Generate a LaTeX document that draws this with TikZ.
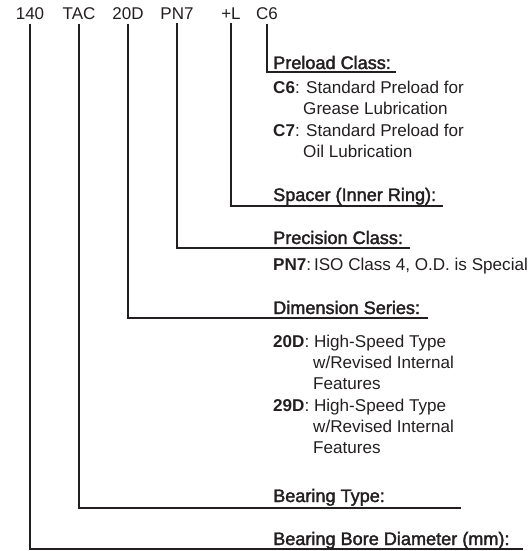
\documentclass[tikz,border=0pt]{standalone}
\usepackage{fontspec}
\setmainfont{Liberation Sans}
\newfontfamily\headfont{Liberation Sans}[FakeBold=2]
\definecolor{ink}{HTML}{231F20}
\begin{document}
\begin{tikzpicture}[x=1pt, y=-1pt,
  code/.style={anchor=base, inner sep=0pt, outer sep=3.5pt, text=ink, font=\fontsize{17}{20}\selectfont},
  head/.style={anchor=base west, inner sep=0pt, text=ink, font=\fontsize{18.1}{21}\headfont},
  body/.style={anchor=base west, inner sep=0pt, text=ink, font=\fontsize{17.1}{21}\selectfont},
  leader/.style={draw=ink, line width=1.5pt}]
\useasboundingbox (0,0) rectangle (532,551);
\node[code] (c140) at (30,20){140};
\node[code] (cTAC) at (79,20){TAC};
\node[code] (c20D) at (128,20){20D};
\node[code] (cPN7) at (177,20){PN7};
\node[code] (cL) at (231,20){+L};
\node[code] (cC6) at (267,20){C6};
\coordinate (eC6) at (396,72);
\coordinate (eL) at (443,206);
\coordinate (ePN7) at (410,248);
\coordinate (e20D) at (428,318);
\coordinate (eTAC) at (461,508);
\coordinate (e140) at (523,549);
\draw[leader](cC6.south) |- (eC6);
\draw[leader](cL.south) |- (eL);
\draw[leader](cPN7.south) |- (ePN7);
\draw[leader](c20D.south) |- (e20D);
\draw[leader](cTAC.south) |- (eTAC);
\draw[leader](c140.south) |- (e140);
\node[head] (hC6) at (273,69){Preload Class:};
\node[body] (bC6a) at (273,93){\textbf{C6}: Standard Preload for};
\node[body] (bC6b) at (303,114){Grease Lubrication};
\node[body] (bC7a) at (273,136){\textbf{C7}: Standard Preload for};
\node[body] (bC7b) at (303,157){Oil Lubrication};
\node[head] (hL) at (273,201){Spacer (Inner Ring):};
\node[head] (hPN7) at (273,244){Precision Class:};
\node[body] (bPN7) at (273,270){\textbf{PN7}:\,ISO Class 4, O.D. is Special};
\node[head] (h20D) at (273,314){Dimension Series:};
\node[body] (b20Da) at (273,347){\textbf{20D}: High-Speed Type};
\node[body] (b20Db) at (313,368){w/Revised Internal};
\node[body] (b20Dc) at (313,389){Features};
\node[body] (b29Da) at (273,411){\textbf{29D}: High-Speed Type};
\node[body] (b29Db) at (313,432){w/Revised Internal};
\node[body] (b29Dc) at (313,453){Features};
\node[head] (hTAC) at (273,502){Bearing Type:};
\node[head] (h140) at (273,545){Bearing Bore Diameter (mm):};
\end{tikzpicture}
\end{document}
